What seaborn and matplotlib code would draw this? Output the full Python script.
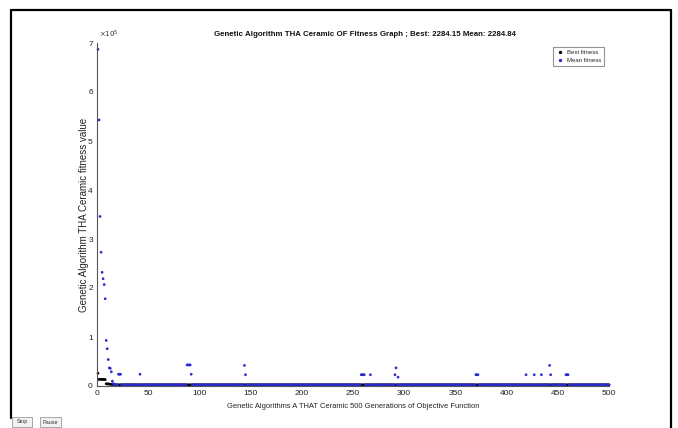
import numpy as np
import pandas as pd
import matplotlib
matplotlib.use("Agg")
import matplotlib.pyplot as plt
import seaborn as sns
from matplotlib import font_manager
from matplotlib.lines import Line2D
from matplotlib.patches import Rectangle
from matplotlib.ticker import FuncFormatter

# ---------------- data ----------------
n_generations = 500

best_early_gens = [1, 2, 3, 4, 5, 6, 7, 8, 9, 10, 11, 12, 13, 14, 15, 16]
best_early_vals = [26000, 13500, 13500, 13500, 13500, 13500, 13500, 13000,
                   4500, 4300, 4100, 3900, 3700, 3500, 3300, 3000]
best_final = 2284.15

mean_out_gens = [1, 2, 3, 4, 5, 6, 7, 8, 9, 10, 11, 12, 13, 14, 15, 16,
                 21, 22, 23, 42, 88, 89, 90, 91, 92, 144, 145,
                 258, 259, 260, 261, 267, 291, 292, 294,
                 370, 371, 372, 419, 427, 434, 442, 443, 458, 459, 460]
mean_out_vals = [687000, 543000, 346000, 273000, 232000, 219000, 207000, 178000,
                 93000, 76000, 54000, 37000, 36000, 29000, 10000, 5000,
                 24000, 24000, 24000, 24000, 43000, 43000, 43000, 43000, 24000,
                 42000, 23000,
                 23000, 23000, 23000, 23000, 23000, 23000, 37000, 18000,
                 23000, 23000, 23000, 23000, 23000, 23000, 42000, 23000,
                 23000, 23000, 23000]
mean_final = 2284.84

x_ticks = [0, 50, 100, 150, 200, 250, 300, 350, 400, 450, 500]
y_ticks = [0, 1, 2, 3, 4, 5, 6, 7]          # in units of 1e5
y_scale = 1e5

title_text = "Genetic Algorithm THA Ceramic OF Fitness Graph ; Best: 2284.15 Mean: 2284.84"
x_label = "Genetic Algorithms A THAT Ceramic 500 Generations of Objective Function"
y_label = "Genetic Algorithm THA Ceramic fitness value"
series_names = ["Best fitness", "Mean fitness"]
series_colors = ["#000000", "#2a2acc"]

# ---------------- build table ----------------
gens = np.arange(1, n_generations + 1)
best = pd.Series(best_final, index=gens, dtype=float)
best.loc[best_early_gens] = best_early_vals
mean = pd.Series(mean_final, index=gens, dtype=float)
mean.loc[mean_out_gens] = mean_out_vals

df = pd.DataFrame({
    "Generation": np.concatenate([gens, gens]),
    "Fitness": np.concatenate([best.values, mean.values]),
    "Series": [series_names[0]] * len(gens) + [series_names[1]] * len(gens),
})

# ---------------- fonts ----------------
names = {f.name for f in font_manager.fontManager.ttflist}
narrow = "Liberation Sans Narrow" if "Liberation Sans Narrow" in names else "Liberation Sans"
regular = "Liberation Sans"

sns.set_theme(style="white")
plt.rcParams["font.family"] = [regular, "DejaVu Sans"]

W, H = 678, 428
fig = plt.figure(figsize=(W / 100, H / 100), dpi=100)
fig.patch.set_facecolor("white")

def fx(px):
    return px / W

def fy(py):
    return 1 - py / H

ax_l, ax_r, ax_t, ax_b = 97, 609, 43, 386
ax = fig.add_axes([fx(ax_l), fy(ax_b), fx(ax_r - ax_l), (ax_b - ax_t) / H])
ax.set_facecolor("white")

sns.scatterplot(data=df, x="Generation", y="Fitness", hue="Series",
                palette=dict(zip(series_names, series_colors)),
                s=3.8, linewidth=0, marker="o", ax=ax, legend=False, clip_on=False)

ax.set_xlim(0, 500)
ax.set_ylim(0, 7 * y_scale)
ax.set_xticks(x_ticks)
ax.set_yticks([v * y_scale for v in y_ticks])
ax.yaxis.set_major_formatter(FuncFormatter(lambda v, p: f"{v / y_scale:g}"))

for side in ["top", "right"]:
    ax.spines[side].set_visible(False)
for side in ["left", "bottom"]:
    ax.spines[side].set_color("#555555")
    ax.spines[side].set_linewidth(0.8)

ax.tick_params(direction="in", length=4, width=0.7, colors="#444444",
               labelsize=6, pad=3)
for lab in ax.get_xticklabels() + ax.get_yticklabels():
    lab.set_fontfamily(narrow)
    lab.set_color("#222222")

ax.set_xlabel(x_label, fontsize=5.4, fontfamily=narrow, color="#222222", labelpad=4)
ax.set_ylabel(y_label, fontsize=7, fontfamily=regular, color="#222222")
ax.yaxis.set_label_coords((89 - ax_l) / (ax_r - ax_l), 0.5)

# offset text x10^5
fig.text(fx(99), fy(34), r"$\times10^5$", fontsize=5, color="#333333",
         ha="left", va="center")

# title
fig.text(fx(365), fy(34), title_text, fontsize=5.7,
         fontfamily=narrow, fontweight="bold", ha="center", va="center",
         color="#111111")

# legend
handles = [Line2D([], [], linestyle="none", marker="o", markersize=1.4,
                  markerfacecolor=c, markeredgecolor=c) for c in series_colors]
leg = ax.legend(handles, series_names, loc="upper right",
                bbox_to_anchor=(fx(604), fy(47)), bbox_transform=fig.transFigure,
                prop={"family": narrow, "size": 4.3}, frameon=True, fancybox=False,
                handlelength=1.2, handletextpad=0.6, borderpad=0.5,
                labelspacing=0.5, borderaxespad=0)
leg.get_frame().set_edgecolor("#777777")
leg.get_frame().set_linewidth(0.8)

# window frame
lw = 1.6
fig.add_artist(Line2D([fx(11), fx(671)], [fy(10), fy(10)], color="black", lw=lw,
                      transform=fig.transFigure))
fig.add_artist(Line2D([fx(11), fx(11)], [fy(10), fy(418)], color="black", lw=lw,
                      transform=fig.transFigure))
fig.add_artist(Line2D([fx(671), fx(671)], [fy(10), fy(428)], color="black", lw=lw,
                      transform=fig.transFigure))

# buttons
for label, x0, x1 in [("Stop", 12, 32), ("Pause", 40, 61)]:
    fig.add_artist(Rectangle((fx(x0), fy(427)), fx(x1 - x0), (427 - 417) / H,
                             transform=fig.transFigure, facecolor="#f2f2f2",
                             edgecolor="#999999", linewidth=0.6))
    fig.text(fx((x0 + x1) / 2), fy(422), label, fontsize=4, fontfamily=narrow,
             ha="center", va="center", color="#333333")

fig.savefig("out.png", dpi=100, facecolor="white")
